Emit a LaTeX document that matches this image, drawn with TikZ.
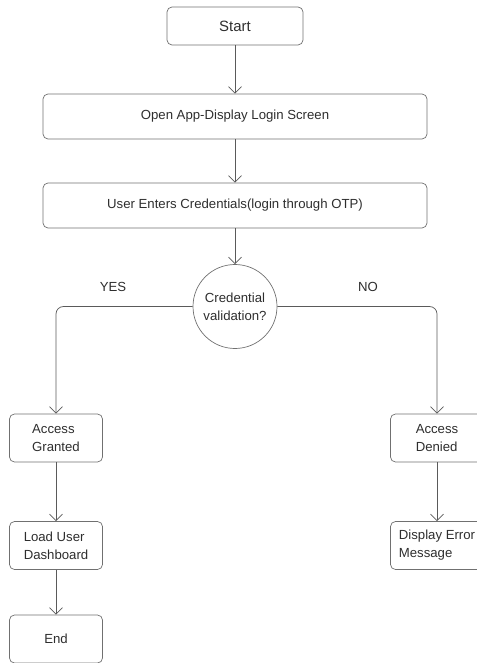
\documentclass[tikz,border=0pt]{standalone}
\usepackage{fontspec}
\setmainfont{Liberation Sans}
\usetikzlibrary{arrows.meta}
\definecolor{linegray}{HTML}{5A5A5A}
\definecolor{boxgray}{HTML}{707070}
\definecolor{textgray}{HTML}{2E2E2E}
\begin{document}
\begin{tikzpicture}
                % Define styles for different elements
                \tikzstyle{widebox} = [rectangle, draw=boxgray, rounded corners=0.1cm, minimum width=7.68cm, minimum height=0.9cm, text=textgray, font=\fontsize{7.5}{10}\selectfont]
                \tikzstyle{startbox} = [rectangle, draw=boxgray, rounded corners=0.1cm, minimum width=2.72cm, minimum height=0.76cm, text=textgray, font=\fontsize{8.5}{10}\selectfont]
                \tikzstyle{smallbox} = [rectangle, draw=boxgray, rounded corners=0.1cm, minimum width=1.86cm, minimum height=0.96cm, text=textgray, align=left, font=\fontsize{7.5}{10.2}\selectfont]
                \tikzstyle{decision} = [circle, draw=boxgray, minimum size=1.68cm, inner sep=0pt, text=textgray, align=center, font=\fontsize{7.5}{10.2}\selectfont]
                \tikzstyle{label} = [text=textgray, font=\fontsize{7.5}{10}\selectfont]
                \tikzstyle{arrow} = [draw=linegray, thin, -{Straight Barb[length=1.3mm, width=2.6mm]}]

                \useasboundingbox (0,0) rectangle (9.54,-13.26);

                % Main column
                \node[startbox] (start) at (4.7,-0.52) {Start};
                \node[widebox] (open) at (4.7,-2.33) {Open App-Display Login Screen};
                \node[widebox] (creds) at (4.7,-4.11) {User Enters Credentials(login through OTP)};
                \node[decision] (valid) at (4.7,-6.13) {Credential\\validation?};

                % Granted branch
                \node[smallbox] (granted) at (1.12,-8.76) {Access\\Granted};
                \node[smallbox] (dashboard) at (1.12,-10.91) {Load User\\Dashboard};
                \node[smallbox] (end) at (1.12,-12.78) {End};

                % Denied branch
                \node[smallbox] (denied) at (8.74,-8.76) {Access\\Denied};
                \node[smallbox] (error) at (8.74,-10.91) {Display Error\\Message};

                % Connect the nodes
                \draw[arrow] (start) -- (open);
                \draw[arrow] (open) -- (creds);
                \draw[arrow] (creds) -- (valid);
                \draw[arrow, rounded corners=0.15cm] (valid.west) -| (granted.north);
                \draw[arrow, rounded corners=0.15cm] (valid.east) -| (denied.north);
                \draw[arrow] (granted) -- (dashboard);
                \draw[arrow] (dashboard) -- (end);
                \draw[arrow] (denied) -- (error);

                % Branch labels
                \node[label] (yes) at (2.26,-5.74) {YES};
                \node[label] (no) at (7.36,-5.74) {NO};
            \end{tikzpicture}
\end{document}
